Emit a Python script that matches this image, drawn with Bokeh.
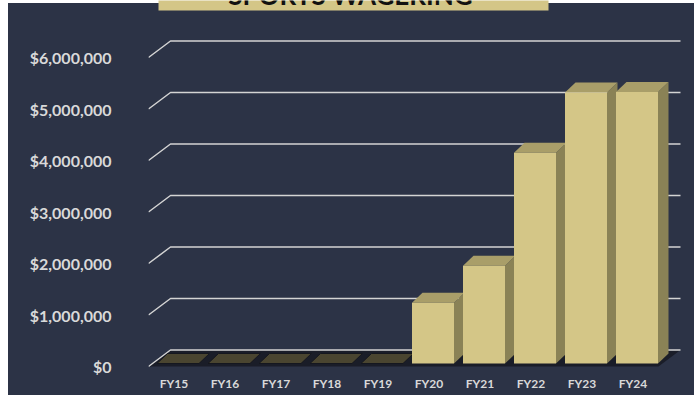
from bokeh.plotting import figure
from bokeh.models import Range1d, FixedTicker, NumeralTickFormatter
from bokeh.core.properties import value
from bokeh.embed import file_html
from bokeh.resources import INLINE

# ---- data ----
title_text = "SPORTS WAGERING"
categories = ["FY15", "FY16", "FY17", "FY18", "FY19", "FY20", "FY21", "FY22", "FY23", "FY24"]
revenue = [0, 0, 0, 0, 0, 1180000, 1900000, 4090000, 5260000, 5270000]
y_ticks = [0, 1000000, 2000000, 3000000, 4000000, 5000000, 6000000]

# ---- layout constants (pixel scale of the pseudo-3D projection) ----
PX_X = 51.0            # px per category
PX_Y = 51.5 / 1e6      # px per dollar
DX = 22 / PX_X         # wall depth (x)
DY = 16.5 / PX_Y       # wall depth (y)
FX = 4 / PX_X          # bar front-plane offset
FY = 3 / PX_Y
BX = 10.5 / PX_X       # bar depth
BY = 10 / PX_Y
BAR_W = 42 / PX_X
GAP = (1 - BAR_W) / 2

BG = "#2C3346"
FRONT = "#D4C687"
TOP = "#A99E69"
SIDE = "#8A8256"
GRID = "#D4D4D4"
LABEL = "#D9D9D9"

n = len(categories)
p = figure(width=686, height=395,
           x_range=Range1d(0, 535 / PX_X),
           y_range=Range1d(-4 / PX_Y, 366 / PX_Y),
           output_backend="svg", toolbar_location=None, title=None,
           min_border_left=140, min_border_right=11,
           min_border_top=0, min_border_bottom=25)
p.styles = {"position": "absolute", "top": "0px", "left": "8px",
            "background": "linear-gradient(#ffffff 0px, #ffffff 3px, %s 3px)" % BG}
p.background_fill_alpha = 0
p.border_fill_alpha = 0
p.outline_line_color = None
p.grid.visible = False

# floor
p.patch([0, n, n + DX, DX], [0, 0, DY, DY], fill_color="#1A1D28", line_color=None)

# 3D gridlines (left wall diagonal + back wall)
p.multi_line(xs=[[0, DX, n + DX] for _ in y_ticks],
             ys=[[v, v + DY, v + DY] for v in y_ticks],
             line_color=GRID, line_width=1.5)

# bars
fx0 = [i + GAP + FX for i in range(n)]
fx1 = [x + BAR_W for x in fx0]
bot = FY
tops = [bot + v for v in revenue]

side_xs = [[x1, x1 + BX, x1 + BX, x1] for x1 in fx1]
side_ys = [[bot, bot + BY, t + BY, t] for t in tops]
top_xs = [[x0, x1, x1 + BX, x0 + BX] for x0, x1 in zip(fx0, fx1)]
top_ys = [[t, t, t + BY, t + BY] for t in tops]

zero = [v == 0 for v in revenue]
p.patches([xs for xs, z in zip(side_xs, zero) if not z],
          [ys for ys, z in zip(side_ys, zero) if not z],
          fill_color=SIDE, line_color=None)
p.patches([xs for xs, z in zip(top_xs, zero) if not z],
          [ys for ys, z in zip(top_ys, zero) if not z],
          fill_color=TOP, line_color=None)
p.patches([xs for xs, z in zip(top_xs, zero) if z],
          [ys for ys, z in zip(top_ys, zero) if z],
          fill_color="#4A4530", line_color="#15171f", line_width=1)
p.quad(left=[x for x, z in zip(fx0, zero) if not z],
       right=[x for x, z in zip(fx1, zero) if not z],
       bottom=bot, top=[t for t, z in zip(tops, zero) if not z],
       fill_color=FRONT, line_color=None)

# title box (cut off at top)
p.quad(left=[10 / PX_X], right=[400 / PX_X], bottom=[356 / PX_Y], top=[420 / PX_Y],
       fill_color="#D4C687", line_color=None)
p.text(x=[202 / PX_X], y=[371.5 / PX_Y], text=[title_text],
       text_font=value("Lato"), text_font_style="bold", text_font_size="26px",
       text_align="center", text_baseline="alphabetic", text_color="#111111")

# axes
ya = p.yaxis[0]
ya.ticker = FixedTicker(ticks=y_ticks)
ya.formatter = NumeralTickFormatter(format="$0,0")
ya.axis_line_color = None
ya.major_tick_line_color = None
ya.minor_tick_line_color = None
ya.major_tick_in = 0
ya.major_tick_out = 0
ya.major_label_standoff = 37
ya.major_label_text_font = "Lato"
ya.major_label_text_font_style = "bold"
ya.major_label_text_font_size = "16px"
ya.major_label_text_color = LABEL

xa = p.xaxis[0]
tick_pos = [i + 0.5 for i in range(n)]
xa.ticker = FixedTicker(ticks=tick_pos)
xa.major_label_overrides = {t: c for t, c in zip(tick_pos, categories)}
xa.axis_line_color = None
xa.major_tick_line_color = None
xa.minor_tick_line_color = None
xa.major_tick_in = 0
xa.major_tick_out = 0
xa.major_label_standoff = 5
xa.major_label_text_font = "Lato"
xa.major_label_text_font_style = "bold"
xa.major_label_text_font_size = "12px"
xa.major_label_text_color = LABEL

open("out.html", "w").write(file_html(p, INLINE))
